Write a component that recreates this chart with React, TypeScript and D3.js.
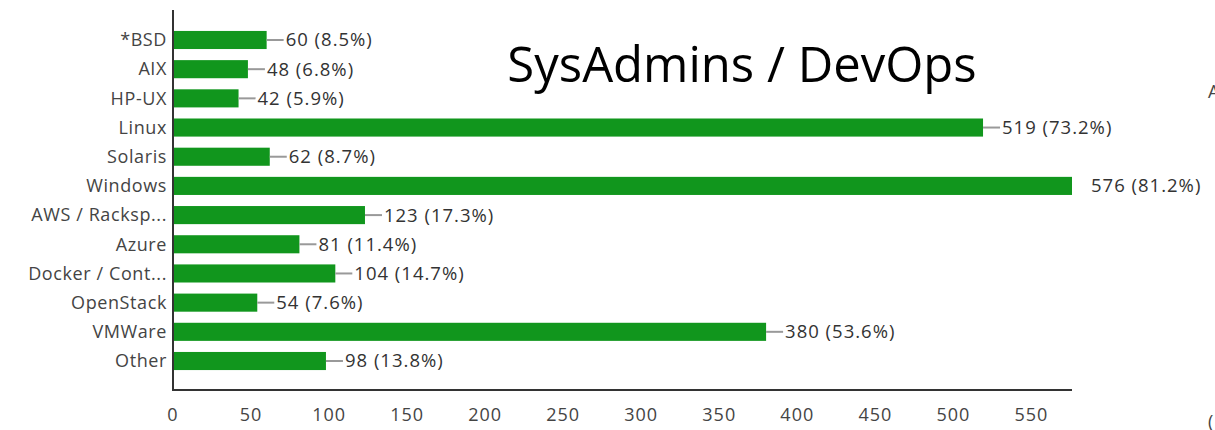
import React from 'react';
import * as d3 from 'd3';

const categories = ['*BSD', 'AIX', 'HP-UX', 'Linux', 'Solaris', 'Windows', 'AWS / Racksp...', 'Azure', 'Docker / Cont...', 'OpenStack', 'VMWare', 'Other'];
const counts = [60, 48, 42, 519, 62, 576, 123, 81, 104, 54, 380, 98];
const percents = ['8.5%', '6.8%', '5.9%', '73.2%', '8.7%', '81.2%', '17.3%', '11.4%', '14.7%', '7.6%', '53.6%', '13.8%'];
const xTicks = [0, 50, 100, 150, 200, 250, 300, 350, 400, 450, 500, 550];
const title = 'SysAdmins / DevOps';

const W = 1215;
const H = 430;
const left = 173;
const right = 1072;
const top = 10;
const bottom = 390;

const App = () => {
  const x = d3.scaleLinear().domain([0, 576]).range([left, right]);
  const y = d3.scaleBand<string>()
    .domain(categories)
    .range([25.4, 375.6])
    .paddingInner(0.38)
    .paddingOuter(0.19);

  const font = '"Open Sans", "Noto Sans", sans-serif';

  return (
    <svg width={W} height={H} style={{ position: 'absolute', left: 0, top: 0, background: '#fff' }}>
      <defs>
        <clipPath id="plot">
          <rect x={left} y={top} width={right - left} height={bottom - top} />
        </clipPath>
      </defs>
      <text x={742} y={82} fontFamily={font} fontSize={49} fill="#000" textAnchor="middle">{title}</text>

      {categories.map((c, i) => {
        const yc = (y(c) as number) + y.bandwidth() / 2;
        const xe = x(counts[i]);
        return (
          <g key={c}>
            <rect x={x(0)} y={y(c)} width={xe - x(0)} height={y.bandwidth()} fill="#11961d" />
            <line x1={xe} x2={xe + 17} y1={yc} y2={yc} stroke="#999" strokeWidth={2} clipPath="url(#plot)" />
            <text x={xe + 19} y={yc} dy="0.35em" fontFamily={font} fontSize={18.5} letterSpacing={1} fill="#333">
              {`${counts[i]} (${percents[i]})`}
            </text>
            <text x={left - 6} y={yc} dy="0.35em" textAnchor="end" fontFamily={font} fontSize={18} letterSpacing={0.6} fill="#444">{c}</text>
          </g>
        );
      })}

      <line x1={left} x2={left} y1={top} y2={bottom} stroke="#333" strokeWidth={2} />
      <line x1={left - 1} x2={right} y1={bottom} y2={bottom} stroke="#333" strokeWidth={2} />
      {xTicks.map(t => (
        <text key={t} x={x(t)} y={421} textAnchor="middle" fontFamily={font} fontSize={18} letterSpacing={1} fill="#444">{t}</text>
      ))}

      <text x={1208} y={98} fontFamily={font} fontSize={18} fill="#444">A</text>
      <text x={1208} y={428} fontFamily={font} fontSize={18} fill="#444">(</text>
    </svg>
  );
};

export default App;
